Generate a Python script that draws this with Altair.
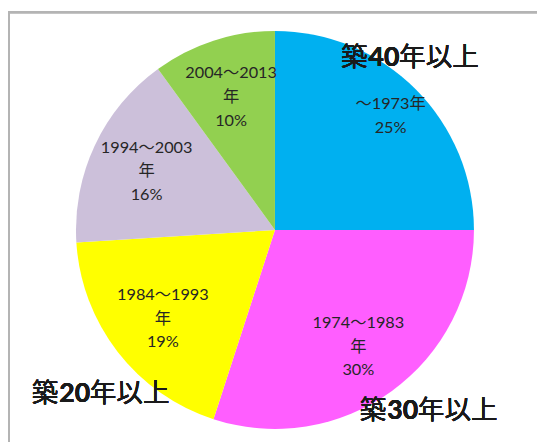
import altair as alt
import pandas as pd

categories = ["～1973", "1974～1983", "1984～1993", "1994～2003", "2004～2013"]
shares = [25, 30, 19, 16, 10]
label_two_line = ["～1973年\n25%", "", "", "", ""]
label_three_line = ["", "1974～1983\n年\n30%", "1984～1993\n年\n19%",
                    "1994～2003\n年\n16%", "2004～2013\n年\n10%"]
colors = ["#00B0F0", "#FF5EFF", "#FFFF00", "#CCC0DA", "#92D050"]

df = pd.DataFrame({
    "cat": categories,
    "share": shares,
    "l2": label_two_line,
    "l3": label_three_line,
    "idx": list(range(len(categories))),
})

W, H = 537, 437
CX, CY = 271, 222
FONT = "Lato, Noto Sans CJK JP, sans-serif"

base = alt.Chart(df).encode(
    theta=alt.Theta("share:Q", stack=True),
    order=alt.Order("idx:Q"),
    x=alt.value(CX),
    y=alt.value(CY),
)

arcs = base.mark_arc(outerRadius=202, strokeWidth=0).encode(
    color=alt.Color("cat:N", scale=alt.Scale(domain=categories, range=colors), legend=None)
)

text_style = dict(fontSize=16.5, font=FONT, color="#262626", lineBreak="\n",
                  lineHeight=24, align="center", baseline="middle")
labels2 = base.mark_text(radius=166, dy=-10, **text_style).encode(text="l2:N")
labels3 = base.mark_text(radius=144, dy=-22, **text_style).encode(text="l3:N")

# border lines
border_top = alt.Chart(df).mark_rule(color="#b4b4b4", strokeWidth=2).encode(
    x=alt.value(0), x2=alt.value(W), y=alt.value(1))
border_left = alt.Chart(df).mark_rule(color="#b4b4b4", strokeWidth=2).encode(
    x=alt.value(1), y=alt.value(0), y2=alt.value(H))

# annotations "築NN年以上" with bold numerals
ann_pre = ["築", "築", "築"]
ann_num = ["40", "30", "20"]
ann_post = ["年以上", "年以上", "年以上"]
ann_x = [338, 357, 24]
ann_y = [48, 406, 389]

def ann_piece(text, x, y, bold):
    return alt.Chart(df).mark_text(
        fontSize=27, font=FONT, color="#1a1a1a", align="left", baseline="middle",
        fontWeight="bold" if bold else "normal"
    ).encode(x=alt.value(x), y=alt.value(y), text=alt.value(text))

ann_layers = []
for pre, num, post, x, y in zip(ann_pre, ann_num, ann_post, ann_x, ann_y):
    ann_layers.append(ann_piece(pre, x, y, False))
    ann_layers.append(ann_piece(num, x + 28, y, True))
    ann_layers.append(ann_piece(post, x + 59, y, False))

chart = alt.layer(arcs, labels2, labels3, border_top, border_left, *ann_layers).properties(
    width=W, height=H, padding=0, autosize=alt.AutoSizeParams(type="none")
).configure_view(strokeWidth=0)

chart.save("out.html", embed_options={"renderer": "svg", "actions": False})
